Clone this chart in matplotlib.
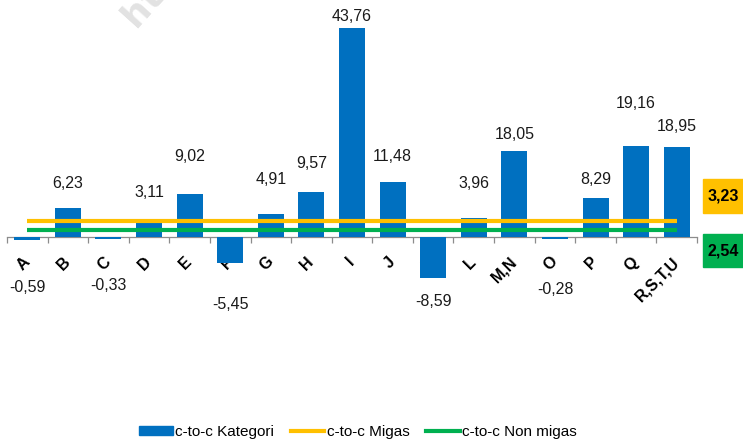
import matplotlib
matplotlib.use("Agg")
import matplotlib.pyplot as plt
from matplotlib.patches import Patch
from matplotlib.lines import Line2D
import numpy as np

# ---- data ----
categories = ["A", "B", "C", "D", "E", "F", "G", "H", "I", "J", "K", "L",
              "M,N", "O", "P", "Q", "R,S,T,U"]
kategori = [-0.59, 6.23, -0.33, 3.11, 9.02, -5.45, 4.91, 9.57, 43.76, 11.48,
            -8.59, 3.96, 18.05, -0.28, 8.29, 19.16, 18.95]
migas = 3.23
nonmigas = 2.54
series_names = ["c-to-c Kategori", "c-to-c Migas", "c-to-c Non migas"]

# ---- layout (label placement in data units, as positioned in the source) ----
label_pos = [-10.6, 11.2, -10.0, 9.4, 16.8, -14.1, 12.0, 15.5, 46.1, 16.8,
             -13.5, 11.2, 21.4, -11.0, 12.0, 27.9, 23.1]

plt.rcParams["font.family"] = ["Liberation Sans", "DejaVu Sans"]

BLUE = "#0070C0"
ORANGE = "#FFC000"
GREEN = "#00B050"
AXC = "#8C8C8C"

W, H = 743, 443
fig = plt.figure(figsize=(W / 100, H / 100), dpi=100)

ymin, ymax = -15, 48
px_per = 4.783
zero_px = 237.3
bot_px = zero_px - ymin * px_per
top_px = zero_px - ymax * px_per
left_px, right_px = 7, 697
rect = [left_px / W, (H - bot_px) / H, (right_px - left_px) / W, (bot_px - top_px) / H]

ax = fig.add_axes(rect)
n = len(categories)
x = np.arange(n)
ax.bar(x, kategori, width=0.64, color=BLUE, zorder=2)
ax.set_xlim(-0.5, n - 0.5)
ax.set_ylim(ymin, ymax)

for s in ["left", "right", "top"]:
    ax.spines[s].set_visible(False)
ax.spines["bottom"].set_position(("data", 0))
ax.spines["bottom"].set_color(AXC)
ax.spines["bottom"].set_linewidth(0.9)
ax.spines["bottom"].set_zorder(1)
ax.set_yticks([])
ax.set_xticks(x)
ax.set_xticklabels(categories, rotation=45, ha="right", va="center",
                   rotation_mode="anchor", fontsize=11.5, fontweight="bold")
ax.tick_params(axis="x", which="major", length=0, pad=16)
ax.set_xticks(np.arange(n + 1) - 0.5, minor=True)
ax.tick_params(axis="x", which="minor", length=4.5, width=0.9, color=AXC, direction="out")

for xi, v, ly in zip(x, kategori, label_pos):
    ax.text(xi, ly, f"{v:.2f}".replace(".", ","), ha="center", va="center",
            fontsize=11.5, color="#1a1a1a", clip_on=False)

# secondary axis for the reference lines (scaled as in the source chart)
ax2 = ax.twinx()
k = 2.55
v0 = migas - 3.35 / k
ax2.set_ylim(v0 + ymin / k, v0 + ymax / k)
ax2.axis("off")
ax2.plot(x[[0, -1]], np.full(2, migas), color=ORANGE, lw=3, solid_capstyle="butt", zorder=3)
ax2.plot(x[[0, -1]], np.full(2, nonmigas), color=GREEN, lw=3, solid_capstyle="butt", zorder=3)

# value boxes on the right
for val, col, y0, y1 in [(migas, ORANGE, 179, 213), (nonmigas, GREEN, 234, 267)]:
    bx0 = 703 / W
    fig.patches.append(plt.Rectangle((bx0, (H - y1) / H), (W - 703) / W, (y1 - y0) / H,
                                     transform=fig.transFigure, color=col, zorder=0))
    fig.text((703 + W) / 2 / W, (H - (y0 + y1) / 2) / H, f"{val:.2f}".replace(".", ","),
             ha="center", va="center", fontsize=11.5, fontweight="bold", color="black")

# watermark fragment
fig.text(116 / W, (H - 33) / H, "https", rotation=48, color="#E2E2E2", fontsize=26,
         fontweight="bold", ha="left", va="bottom", family="DejaVu Sans", zorder=0)

handles = [Patch(facecolor=BLUE, edgecolor=BLUE),
           Line2D([0], [0], color=ORANGE, lw=3),
           Line2D([0], [0], color=GREEN, lw=3)]
leg = fig.legend(handles, series_names, loc="center", ncol=3,
                 bbox_to_anchor=(358 / W, (H - 432) / H), frameon=False,
                 fontsize=11, handlelength=2.2, handleheight=0.6,
                 handletextpad=0.15, columnspacing=1.1, borderaxespad=0)

fig.savefig("out.png", dpi=100)
